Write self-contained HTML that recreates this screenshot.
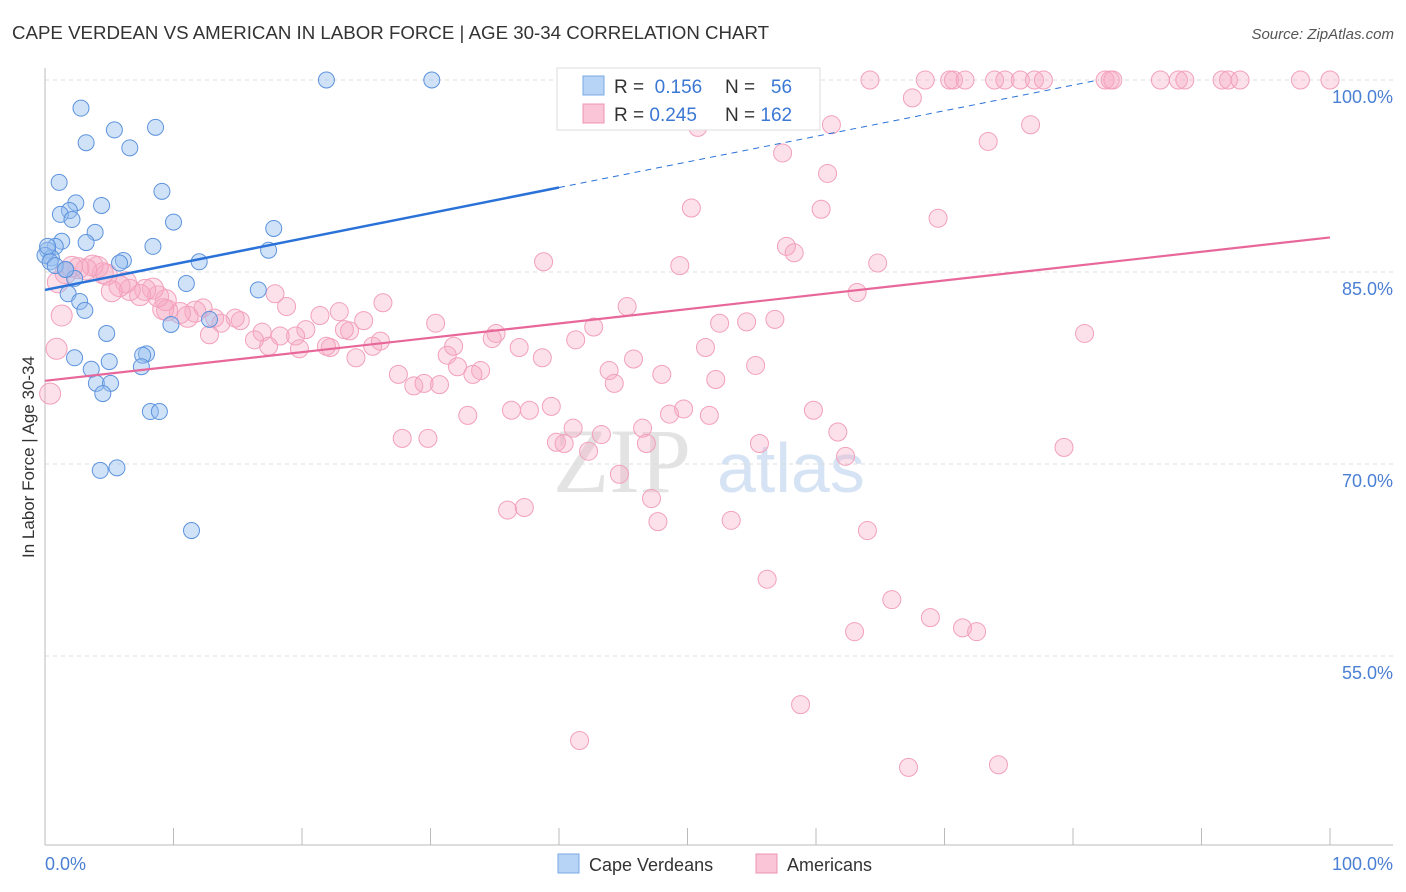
<!DOCTYPE html>
<html><head><meta charset="utf-8">
<style>
body{margin:0;background:#fff;font-family:"Liberation Sans",sans-serif;}
#wrap{position:relative;width:1406px;height:892px;overflow:hidden;}
</style></head>
<body>
<div id="wrap">
<svg id="chart" width="1406" height="892" xmlns="http://www.w3.org/2000/svg">
<text x="12" y="39" font-size="18.7" fill="#333">CAPE VERDEAN VS AMERICAN IN LABOR FORCE | AGE 30-34 CORRELATION CHART</text>
<text x="1394" y="39" font-size="15" fill="#555" font-style="italic" text-anchor="end">Source: ZipAtlas.com</text>
<text transform="translate(34,457) rotate(-90)" font-size="17" fill="#333" text-anchor="middle">In Labor Force | Age 30-34</text>
<g>
<text x="553" y="492" font-size="92" fill="#d8d8d8" font-family="Liberation Serif,serif" opacity="0.7">ZIP</text>
<text x="717" y="492" font-size="70" fill="#bcd2ee" opacity="0.6">atlas</text>
</g>
<g id="grid"></g>
<g id="axes"></g>
<g id="marks"></g>
<g id="trend"></g>
<g>
<rect x="557" y="68" width="263" height="62" fill="#fff" stroke="#ddd"/>
<rect x="583" y="76" width="21" height="19" fill="#b7d3f5" stroke="#7aa8e6"/>
<rect x="583" y="104" width="21" height="19" fill="#fac5d6" stroke="#ef94b2"/>
<text x="614" y="93" font-size="19" fill="#333">R = <tspan fill="#3b78d4">&#160;0.156</tspan></text>
<text x="725" y="93" font-size="19" fill="#333">N = <tspan fill="#3b78d4">&#160;&#160;56</tspan></text>
<text x="614" y="121" font-size="19" fill="#333">R = <tspan fill="#3b78d4">0.245</tspan></text>
<text x="725" y="121" font-size="19" fill="#333">N = <tspan fill="#3b78d4">162</tspan></text>
</g>
<g>
<rect x="558" y="854" width="21" height="19" fill="#b7d3f5" stroke="#7aa8e6"/>
<text x="589" y="871" font-size="18" fill="#333">Cape Verdeans</text>
<rect x="756" y="854" width="21" height="19" fill="#fac5d6" stroke="#ef94b2"/>
<text x="787" y="871" font-size="18" fill="#333">Americans</text>
</g>
</svg>
</div>
<script>
const yTicks=[55,70,85,100];
const yTickLabels=["55.0%","70.0%","85.0%","100.0%"];
const xTicks=[0,10,20,30,40,50,60,70,80,90,100];
const blueX=[21.9,30.1,2.8,5.4,8.6,3.2,6.6,1.1,9.1,2.4,4.4,1.9,1.2,2.1,10.0,17.8,3.9,1.3,3.2,0.8,0.2,8.4,17.4,0.5,6.1,12.0,5.8,1.6,2.3,11.0,16.6,1.8,2.7,3.1,12.8,9.8,4.8,2.3,7.9,7.6,5.0,3.6,7.5,4.0,5.1,4.5,8.2,8.9,4.3,5.6,11.4,0,0.4,0.8,1.6,0.2];
const blueY=[100,100,97.8,96.1,96.3,95.1,94.7,92.0,91.3,90.4,90.2,89.8,89.5,89.1,88.9,88.4,88.1,87.4,87.3,87.0,86.7,87.0,86.7,86.1,85.9,85.8,85.7,85.2,84.5,84.1,83.6,83.3,82.7,82.0,81.3,80.9,80.2,78.3,78.6,78.5,78.0,77.4,77.6,76.3,76.3,75.5,74.1,74.1,69.5,69.7,64.8,86.3,85.8,85.5,85.2,87.0];
const pinkX=[54.1,59.1,64.2,68.5,70.4,70.7,71.6,73.9,74.7,75.9,77.0,77.7,82.5,82.9,83.1,86.8,88.2,88.7,91.6,92.1,93.0,97.7,100,
67.5,50.8,61.2,76.7,57.4,73.4,60.9,50.3,60.4,69.5,57.7,58.3,38.8,49.4,64.8,80.9,63.2,45.3,52.5,54.6,56.8,42.7,41.3,51.4,45.8,48.0,52.2,55.3,43.9,44.3,38.7,36.9,35.1,34.8,31.3,31.8,30.4,32.1,33.9,33.3,32.9,28.7,29.5,30.7,27.5,26.1,25.5,26.3,24.8,24.2,23.7,23.3,22.9,21.4,22.2,21.9,20.3,19.5,19.8,18.3,18.8,17.9,16.9,17.4,16.3,15.2,14.8,13.7,12.8,13.2,12.3,11.7,11.1,10.5,9.5,9.4,9.2,8.8,8.4,7.8,7.4,6.6,6.3,5.8,5.2,4.8,4.5,4.1,3.7,3.2,2.6,2.1,1.6,1.0,1.3,0.9,0.4,36.3,37.7,39.4,39.8,40.4,41.1,43.3,42.3,46.5,46.8,44.7,47.2,47.7,48.6,49.7,51.7,55.6,59.8,61.7,62.3,36.0,37.3,27.8,29.8,53.4,56.2,64.0,65.9,63.0,68.9,71.4,72.5,58.8,41.6,67.2,74.2,79.3];
const pinkY=[100,100,100,100,100,100,100,100,100,100,100,100,100,100,100,100,100,100,100,100,100,100,100,
98.6,96.3,96.5,96.5,94.3,95.2,92.7,90.0,89.9,89.2,87.0,86.5,85.8,85.5,85.7,80.2,83.4,82.3,81.0,81.1,81.3,80.7,79.7,79.1,78.2,77.0,76.6,77.7,77.3,76.3,78.3,79.1,80.2,79.8,78.5,79.2,81.0,77.6,77.3,77.0,73.8,76.1,76.3,76.2,77.0,79.6,79.2,82.6,81.2,78.3,80.4,80.5,81.9,81.6,79.1,79.2,80.5,80.0,79.0,80.0,82.3,83.3,80.3,79.2,79.7,81.2,81.4,81.0,80.1,81.4,82.2,81.9,81.5,81.8,82.0,82.8,82.1,83.1,83.7,83.6,83.2,83.6,84.2,83.9,83.5,84.8,84.9,85.4,85.5,85.2,85.3,85.4,84.9,84.2,81.6,79.0,75.5,74.2,74.2,74.5,71.7,71.6,72.8,72.3,71.0,72.8,71.6,69.2,67.3,65.5,73.9,74.3,73.8,71.6,74.2,72.5,70.6,66.4,66.6,72.0,72.0,65.6,61.0,64.8,59.4,56.9,58.0,57.2,56.9,51.2,48.4,46.3,46.5,71.3];
const blueTrend=[83.6,0.2];
const pinkTrend=[76.5,0.112];

const NS="http://www.w3.org/2000/svg";
const X0=45,X1=1330,YT=80,PX=12.8;
const sx=v=>X0+(X1-X0)*v/100;
const sy=v=>YT+(100-v)*PX;
function mk(tag,attrs,parent){const e=document.createElementNS(NS,tag);for(const k in attrs)e.setAttribute(k,attrs[k]);parent.appendChild(e);return e;}
const grid=document.getElementById('grid'),axes=document.getElementById('axes'),marks=document.getElementById('marks'),trend=document.getElementById('trend');
yTicks.forEach((t,i)=>{
  const l=mk('line',{x1:X0,x2:1393,y1:sy(t),y2:sy(t),stroke:'#ddd','stroke-dasharray':'4,4'},grid);
  
  
  const tx=mk('text',{x:1393,y:sy(t)+23,'font-size':18,fill:'#4a7fd4','text-anchor':'end'},axes);
  tx.textContent=yTickLabels[i];
  
  
});
const ax=mk('line',{x1:X0,x2:1393,y1:845,y2:845,stroke:'#bbb'},axes);


const ay=mk('line',{x1:X0,x2:X0,y1:68,y2:845,stroke:'#bbb'},axes);


xTicks.forEach(t=>{
  const l=mk('line',{x1:sx(t),x2:sx(t),y1:828,y2:845,stroke:'#bbb'},axes);
  
  
});
[[0,'0.0%','start',45],[100,'100.0%','end',1393]].forEach(d=>{
  const tx=mk('text',{x:d[3],y:870,'font-size':18,fill:'#4a7fd4','text-anchor':d[2]},axes);
  tx.textContent=d[1];
  
  
});
pinkX.forEach((v,i)=>{
  const r=v<12?10.5:9;
  const c=mk('circle',{cx:sx(v),cy:sy(pinkY[i]),r:r,fill:'rgba(246,170,195,0.35)',stroke:'#f2a0bb','stroke-width':1},marks);
  
  
});
blueX.forEach((v,i)=>{
  const c=mk('circle',{cx:sx(v),cy:sy(blueY[i]),r:8,fill:'rgba(150,190,240,0.45)',stroke:'#5d93dd','stroke-width':1},marks);
  
  
});
const bx2=(100-blueTrend[0])/blueTrend[1];
const b1=mk('line',{x1:sx(0),y1:sy(blueTrend[0]),x2:sx(40),y2:sy(blueTrend[0]+40*blueTrend[1]),stroke:'#2a72d8','stroke-width':2.5},trend);


const b2=mk('line',{x1:sx(40),y1:sy(blueTrend[0]+40*blueTrend[1]),x2:sx(bx2),y2:sy(100),stroke:'#2a72d8','stroke-width':1,'stroke-dasharray':'6,5'},trend);


const p1=mk('line',{x1:sx(0),y1:sy(pinkTrend[0]),x2:sx(100),y2:sy(pinkTrend[0]+100*pinkTrend[1]),stroke:'#e8679a','stroke-width':2.2},trend);


</script>
</body></html>
